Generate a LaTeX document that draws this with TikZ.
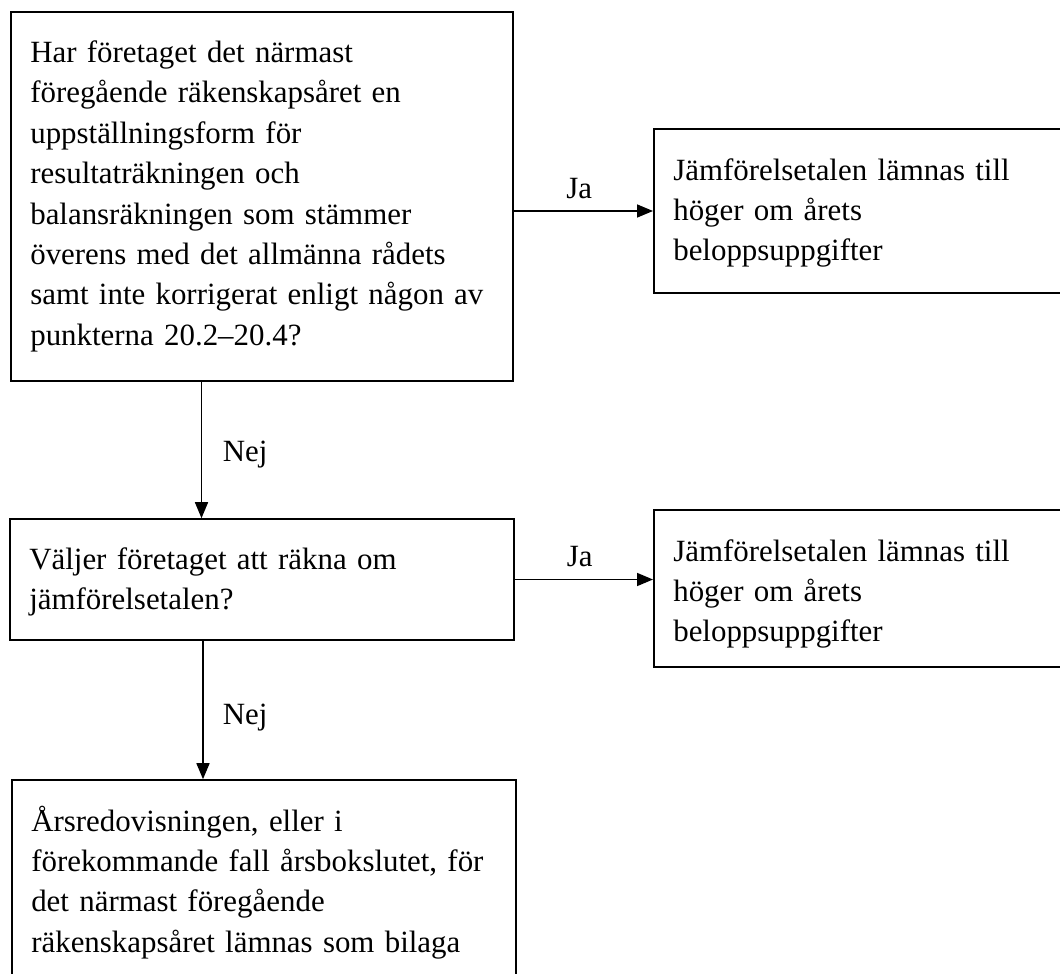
\documentclass[tikz,border=0pt]{standalone}
\usepackage{fontspec}
\setmainfont{Liberation Serif}
\usetikzlibrary{arrows.meta}
\newcommand\flowfont{\fontsize{30.9}{40.4}\selectfont}
\newcommand\fline[1]{\mbox{#1}}
\tikzset{
  flowbox/.style={draw, line width=1.6pt, anchor=base west, inner xsep=19.5pt, inner ysep=0pt,
    align=left, font=\flowfont},
  lbl/.style={inner sep=0pt, font=\flowfont},
  arr/.style={line width=1.6pt, -{Triangle[length=16pt,width=13pt]}}
}
\begin{document}
\begin{tikzpicture}[x=1pt,y=-1pt]
\useasboundingbox (0,0) rectangle (1060,974);
\fill[white] (0,0) rectangle (1060,974);
\clip (0,0) rectangle (1060,974);
% boxes
\node[flowbox, text width=463pt, text height=50.5pt, text depth=318.5pt] (b1) at (10,62.5)
  {\fline{Har företaget det närmast}\\ \fline{föregående räkenskapsåret en}\\ \fline{uppställningsform för}\\ \fline{resultaträkningen och}\\ \fline{balansräkningen som stämmer}\\ \fline{överens med det allmänna rådets}\\ \fline{samt inte korrigerat enligt någon av}\\ \fline{punkterna 20.2–20.4?}};
\node[flowbox, text width=388pt, text height=51pt, text depth=113pt] (b2) at (653,180)
  {\fline{Jämförelsetalen lämnas till}\\ \fline{höger om årets}\\ \fline{beloppsuppgifter}};
\node[flowbox, text width=465pt, text height=50pt, text depth=71pt] (b3) at (9,569)
  {\fline{Väljer företaget att räkna om}\\ \fline{jämförelsetalen?}};
\node[flowbox, text width=388pt, text height=51pt, text depth=106pt] (b4) at (653,561)
  {\fline{Jämförelsetalen lämnas till}\\ \fline{höger om årets}\\ \fline{beloppsuppgifter}};
\node[flowbox, text width=465pt, text height=51pt, text depth=169pt] (b5) at (11,831)
  {\fline{Årsredovisningen, eller i}\\ \fline{förekommande fall årsbokslutet, för}\\ \fline{det närmast föregående}\\ \fline{räkenskapsåret lämnas som bilaga}};
% connectors
\draw[arr] (b1.east |- b2.west) -- (b2.west)
  node[lbl, pos=0.47, anchor=base, yshift=13pt] (ja1) {Ja};
\draw[arr] (b3.east) -- (b3.east -| b4.west)
  node[lbl, pos=0.47, anchor=base, yshift=13pt] (ja2) {Ja};
\draw[arr] ([xshift=191.5pt]b1.south west) -- ([xshift=191.5pt]b1.south west |- b3.north)
  node[lbl, pos=0.5, anchor=base west, xshift=20.5pt, yshift=-11pt] (nej1) {Nej};
\draw[arr] ([xshift=194pt]b3.south west) -- ([xshift=194pt]b3.south west |- b5.north)
  node[lbl, pos=0.5, anchor=base west, xshift=19pt, yshift=-14pt] (nej2) {Nej};
\end{tikzpicture}
\end{document}
